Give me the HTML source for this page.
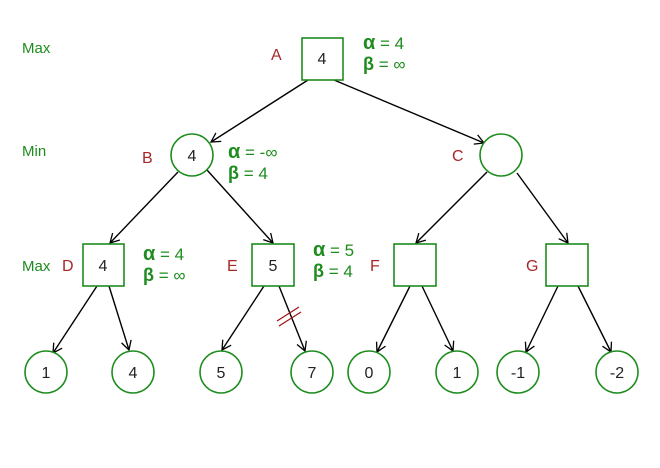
<!DOCTYPE html>
<html><head><meta charset="utf-8"><style>
html,body{margin:0;padding:0;background:#fff;}
svg{display:block;}
text{font-family:"Liberation Sans",sans-serif;}
</style></head><body>
<svg width="660" height="468" viewBox="0 0 660 468" xmlns="http://www.w3.org/2000/svg">
<defs>
<marker id="ar" markerWidth="12" markerHeight="12" refX="10" refY="6" orient="auto" markerUnits="userSpaceOnUse">
<path d="M1,1 L10,6 L1,11" fill="none" stroke="#000" stroke-width="1.3"/>
</marker>
</defs>
<g stroke="#000" stroke-width="1.4" marker-end="url(#ar)">
<line x1="308" y1="80" x2="211" y2="142"/>
<line x1="334" y1="80" x2="484" y2="143"/>
<line x1="178" y1="172" x2="110" y2="243"/>
<line x1="207" y1="170" x2="273" y2="243"/>
<line x1="487" y1="172" x2="416" y2="243"/>
<line x1="517" y1="173" x2="568" y2="243"/>
<line x1="97" y1="286" x2="53" y2="353"/>
<line x1="109" y1="286" x2="129" y2="350"/>
<line x1="264" y1="286" x2="222" y2="350"/>
<line x1="279" y1="286" x2="305" y2="351"/>
<line x1="410" y1="286" x2="377" y2="352"/>
<line x1="422" y1="286" x2="453" y2="351"/>
<line x1="558" y1="286" x2="526" y2="352"/>
<line x1="578" y1="286" x2="611" y2="352"/>
</g>
<g stroke="#a31515" stroke-width="1.3">
<line x1="277" y1="321" x2="299" y2="307"/>
<line x1="279" y1="326" x2="301" y2="312"/>
</g>
<g fill="#fff" stroke="#1e8c1e" stroke-width="1.6">
<rect x="302" y="38" width="41" height="42"/>
<circle cx="192" cy="155" r="21"/>
<circle cx="501" cy="155" r="21"/>
<rect x="83" y="244" width="41" height="42"/>
<rect x="252" y="244" width="42" height="42"/>
<rect x="394" y="244" width="42" height="42"/>
<rect x="546" y="244" width="42" height="42"/>
<circle cx="46" cy="372" r="21"/>
<circle cx="133" cy="372" r="21"/>
<circle cx="221" cy="372" r="21"/>
<circle cx="312" cy="372" r="21"/>
<circle cx="369" cy="372" r="21"/>
<circle cx="457" cy="372" r="21"/>
<circle cx="518" cy="372" r="21"/>
<circle cx="617" cy="372" r="21"/>
</g>
<g font-size="16" fill="#222" text-anchor="middle">
<text x="322" y="64">4</text>
<text x="192" y="161">4</text>
<text x="103" y="271">4</text>
<text x="273" y="271">5</text>
<text x="46" y="378">1</text>
<text x="133" y="378">4</text>
<text x="221" y="378">5</text>
<text x="312" y="378">7</text>
<text x="369" y="378">0</text>
<text x="457" y="378">1</text>
<text x="518" y="378">-1</text>
<text x="617" y="378">-2</text>
</g>
<g font-size="15" fill="#1e8c1e">
<text x="22" y="53">Max</text>
<text x="22" y="156">Min</text>
<text x="22" y="271">Max</text>
</g>
<g font-size="16" fill="#a82828">
<text x="271" y="60">A</text>
<text x="142" y="163">B</text>
<text x="452" y="161">C</text>
<text x="62" y="271">D</text>
<text x="227" y="271">E</text>
<text x="370" y="271">F</text>
<text x="526" y="271">G</text>
</g>
<g font-size="17" fill="#1e8c1e">
<text x="363" y="49"><tspan font-weight="bold" font-size="20">α</tspan> = 4</text>
<text x="363" y="70"><tspan font-weight="bold" font-size="18">β</tspan> = ∞</text>
<text x="228" y="158"><tspan font-weight="bold" font-size="20">α</tspan> = -∞</text>
<text x="228" y="179"><tspan font-weight="bold" font-size="18">β</tspan> = 4</text>
<text x="143" y="260"><tspan font-weight="bold" font-size="20">α</tspan> = 4</text>
<text x="143" y="281"><tspan font-weight="bold" font-size="18">β</tspan> = ∞</text>
<text x="313" y="256"><tspan font-weight="bold" font-size="20">α</tspan> = 5</text>
<text x="313" y="277"><tspan font-weight="bold" font-size="18">β</tspan> = 4</text>
</g>
</svg>
</body></html>
